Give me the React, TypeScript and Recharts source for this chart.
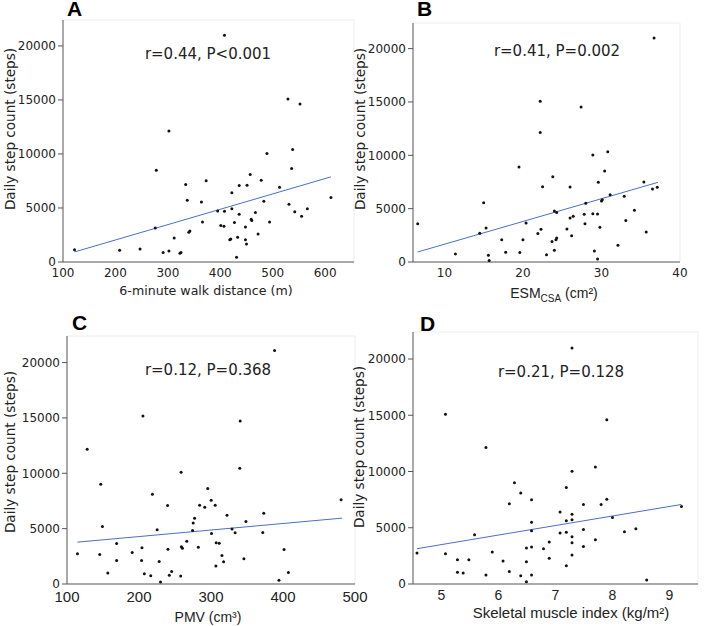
import { ScatterChart, Scatter, XAxis, YAxis, ReferenceLine } from 'recharts'

// shared y axis (daily step count)
const stepTicks = [0, 5000, 10000, 15000, 20000]
const stepMax = 22400

// A: 6-minute walk distance
const walkDist = [122, 208, 247, 276, 278, 291, 302, 302, 312, 323, 325, 334, 337, 340, 342, 364, 366, 373, 395, 401, 407, 408, 408, 418, 420, 422, 422, 427, 431, 433, 436, 436, 448, 448, 450, 451, 457, 459, 460, 467, 472, 478, 483, 489, 494, 513, 529, 531, 536, 538, 542, 552, 555, 566, 611]
const stepsA = [1140, 1080, 1210, 3150, 8500, 870, 1020, 12120, 2230, 820, 870, 7170, 5720, 2750, 2880, 5560, 3710, 7510, 4730, 3370, 3310, 20990, 4700, 2050, 2130, 6400, 4920, 3650, 430, 2290, 4420, 7080, 3250, 2070, 1670, 7110, 8100, 3960, 3830, 4580, 2600, 7570, 5630, 10050, 3710, 6920, 15090, 5350, 8660, 10420, 4640, 14620, 4240, 4920, 5970]
const walkTicks = [100, 200, 300, 400, 500, 600]
const fitWalkX = [122, 611]
const fitWalkY = [930, 7880]

// B: ESM cross-sectional area
const esmCsa = [6.6, 11.4, 14.5, 15.0, 15.3, 15.6, 15.7, 17.3, 17.8, 19.5, 19.6, 20.0, 20.4, 21.9, 22.2, 22.2, 22.3, 22.5, 23.0, 23.7, 23.8, 24.0, 24.0, 24.2, 24.3, 24.3, 25.6, 26.0, 26.0, 26.2, 26.4, 27.4, 27.8, 27.9, 28.0, 28.9, 28.9, 29.1, 29.5, 29.5, 29.6, 29.8, 30.0, 30.1, 30.4, 30.8, 31.1, 32.1, 32.9, 33.1, 34.2, 35.4, 35.7, 36.5, 36.7, 37.1]
const stepsB = [3590, 750, 2690, 5560, 3190, 630, 130, 2090, 910, 8910, 880, 2090, 3660, 2660, 15060, 12130, 3060, 7060, 690, 1910, 8000, 4780, 1090, 2090, 2250, 4630, 3090, 7030, 4130, 2470, 4280, 14530, 4470, 3590, 5500, 4530, 10030, 1030, 4500, 280, 7470, 3250, 5720, 5840, 8530, 10340, 6310, 1560, 6160, 3880, 4840, 7500, 2810, 6840, 21000, 7000]
const esmTicks = [10, 20, 30, 40]
const fitEsmX = [6.6, 37.2]
const fitEsmY = [940, 7470]

// C: pectoralis muscle volume
const pmv = [114.5, 128, 145.5, 146.9, 149.2, 156.7, 168.9, 168.9, 190.5, 204.1, 203.6, 205.5, 207.4, 216.3, 218.6, 225.2, 228, 229.9, 239.7, 240.2, 242.1, 245.3, 257.9, 258.5, 258.9, 260.3, 266.4, 274.4, 275.3, 277.2, 282.4, 284.2, 291.3, 295.5, 300.2, 300.7, 305.8, 307.2, 306.8, 311.4, 315.2, 317.5, 322.2, 329.2, 333.5, 340, 340.5, 345.7, 348.5, 371.9, 373.3, 388.3, 394.4, 401.5, 407.5, 480.7]
const stepsC = [2730, 12160, 2670, 9010, 5200, 990, 3660, 2130, 2850, 3270, 2130, 15170, 930, 750, 8110, 4900, 2040, 180, 7090, 3150, 780, 1140, 720, 10090, 3360, 3240, 3870, 4840, 5500, 5950, 3330, 7120, 6940, 8620, 7570, 4570, 7120, 3720, 1620, 3690, 2580, 2010, 6220, 4960, 4630, 10450, 14720, 2280, 5650, 4660, 6400, 21080, 330, 3120, 1050, 7600]
const pmvTicks = [100, 200, 300, 400, 500]
const fitPmvX = [114.5, 482]
const fitPmvY = [3780, 5950]

// D: skeletal muscle index
const smi = [4.57, 5.07, 5.07, 5.28, 5.28, 5.38, 5.48, 5.58, 5.78, 5.78, 5.89, 6.08, 6.19, 6.19, 6.28, 6.39, 6.39, 6.49, 6.49, 6.49, 6.58, 6.58, 6.58, 6.58, 6.58, 6.79, 6.89, 6.89, 7.08, 7.08, 7.19, 7.19, 7.19, 7.19, 7.29, 7.29, 7.29, 7.29, 7.29, 7.29, 7.29, 7.49, 7.49, 7.49, 7.7, 7.7, 7.8, 7.9, 7.9, 8.0, 8.21, 8.41, 8.6, 9.21]
const stepsD = [2750, 15090, 2690, 2160, 1040, 980, 2160, 4380, 12130, 800, 2840, 2040, 7130, 1120, 8990, 8080, 740, 3200, 1980, 210, 7490, 5500, 4730, 3280, 800, 3140, 3730, 2280, 6390, 4530, 8580, 5620, 4590, 1630, 20980, 10030, 6210, 5710, 4200, 3670, 2570, 7070, 4850, 3340, 10390, 3940, 7070, 14590, 7540, 5920, 4650, 4910, 360, 6890]
const smiTicks = [5, 6, 7, 8, 9]
const fitSmiX = [4.57, 9.21]
const fitSmiY = [3140, 7070]

const zip = (xs: number[], ys: number[]) => xs.map((x, i) => ({ x, y: ys[i] }))

const YW = 60
const MT = 4
const XH = 30
const TEXT = '#222'
const AXIS = '#555'
const FIT = '#4a6fc9'

const Dot = (p: any) => <circle cx={p.cx} cy={p.cy} r={1.5} fill="#111" />
const NoDot = () => <g />

type PanelProps = {
  xs: number[]
  ys: number[]
  fitX: number[]
  fitY: number[]
  xDomain: [number, number]
  xTicks: number[]
  box: { l: number; r: number; t: number; b: number }
  tickFont: string
  tickSize: number
  tickGap: number
  mr: number
}

function Panel({ xs, ys, fitX, fitY, xDomain, xTicks, box, tickFont, tickSize, tickGap, mr }: PanelProps) {
  const left = box.l - YW
  const top = box.t - MT
  const width = box.r - left + mr
  const height = box.b - top + XH
  return (
    <div style={{ position: 'absolute', left, top, width, height }}>
      <ScatterChart width={width} height={height} margin={{ top: MT, right: mr, left: 0, bottom: 0 }}>
        <XAxis
          type="number"
          dataKey="x"
          domain={xDomain}
          ticks={xTicks}
          interval={0}
          allowDataOverflow
          height={XH}
          tickLine={false}
          tickSize={0}
          tickMargin={tickGap}
          axisLine={{ stroke: AXIS }}
          tick={{ fill: TEXT, fontSize: tickSize, fontFamily: tickFont }}
        />
        <YAxis
          type="number"
          dataKey="y"
          domain={[0, stepMax]}
          ticks={stepTicks}
          interval={0}
          allowDataOverflow
          width={YW}
          tickSize={5}
          tickMargin={2}
          tickLine={{ stroke: AXIS }}
          axisLine={{ stroke: AXIS }}
          tick={{ fill: TEXT, fontSize: 12, fontFamily: 'DejaVu Sans' }}
        />
        <ReferenceLine y={stepMax} stroke="#ededed" />
        <ReferenceLine x={xDomain[1]} stroke="#ededed" />
        <Scatter data={zip(fitX, fitY)} line={{ stroke: FIT, strokeWidth: 1 }} shape={NoDot} isAnimationActive={false} />
        <Scatter data={zip(xs, ys)} shape={Dot} isAnimationActive={false} />
      </ScatterChart>
    </div>
  )
}

const letter = { fontFamily: 'Liberation Sans', fontWeight: 700, fontSize: 21, fill: '#000' }
const note = { fontFamily: 'DejaVu Sans', fontSize: 15, fill: TEXT, textAnchor: 'middle' as const }
const ylab = { fontFamily: 'DejaVu Sans', fontSize: 13.6, fill: TEXT, textAnchor: 'middle' as const }
const sans = { fontFamily: 'Liberation Sans', fill: TEXT, textAnchor: 'middle' as const }
const yLabel = 'Daily step count (steps)'

export default function App() {
  return (
    <div style={{ position: 'absolute', left: 0, top: 0, width: 709, height: 626, background: '#fff', overflow: 'hidden' }}>
      <Panel xs={walkDist} ys={stepsA} fitX={fitWalkX} fitY={fitWalkY} xDomain={[100, 655]} xTicks={walkTicks}
        box={{ l: 63, r: 354, t: 20, b: 262 }} tickFont="DejaVu Sans" tickSize={12} tickGap={6} mr={4} />
      <Panel xs={esmCsa} ys={stepsB} fitX={fitEsmX} fitY={fitEsmY} xDomain={[6, 40]} xTicks={esmTicks}
        box={{ l: 413, r: 680, t: 23, b: 262 }} tickFont="DejaVu Sans" tickSize={12} tickGap={6} mr={20} />
      <Panel xs={pmv} ys={stepsC} fitX={fitPmvX} fitY={fitPmvY} xDomain={[100, 500]} xTicks={pmvTicks}
        box={{ l: 67, r: 355, t: 336, b: 584 }} tickFont="Liberation Sans" tickSize={15} tickGap={7} mr={20} />
      <Panel xs={smi} ys={stepsD} fitX={fitSmiX} fitY={fitSmiY} xDomain={[4.5, 9.5]} xTicks={smiTicks}
        box={{ l: 413, r: 698, t: 332, b: 584 }} tickFont="Liberation Sans" tickSize={14} tickGap={6} mr={4} />

      <svg width={709} height={626} style={{ position: 'absolute', left: 0, top: 0, pointerEvents: 'none' }}>
        <text x={67} y={16} {...letter}>A</text>
        <text x={417} y={16} {...letter}>B</text>
        <text x={72} y={330} {...letter}>C</text>
        <text x={420} y={331} {...letter}>D</text>

        <text x={208} y={58.5} {...note}>r=0.44, P&lt;0.001</text>
        <text x={557} y={55.5} {...note}>r=0.41, P=0.002</text>
        <text x={208} y={375} {...note}>r=0.12, P=0.368</text>
        <text x={561} y={376.5} {...note}>r=0.21, P=0.128</text>

        <text transform="translate(15,129) rotate(-90)" {...ylab}>{yLabel}</text>
        <text transform="translate(365,129) rotate(-90)" {...ylab}>{yLabel}</text>
        <text transform="translate(15,452) rotate(-90)" {...ylab}>{yLabel}</text>
        <text transform="translate(364,447) rotate(-90)" {...ylab}>{yLabel}</text>

        <text x={206} y={295} fontFamily="DejaVu Sans" fontSize={12.6} fill={TEXT} textAnchor="middle">6-minute walk distance (m)</text>
        <text x={554} y={298} fontSize={14} {...sans}>
          ESM<tspan fontSize={10} dy={4}>CSA</tspan><tspan dy={-4}> (cm²)</tspan>
        </text>
        <text x={208} y={622} fontSize={14} {...sans}>PMV (cm³)</text>
        <text x={571} y={618} fontSize={15} {...sans}>Skeletal muscle index (kg/m²)</text>
      </svg>
    </div>
  )
}
